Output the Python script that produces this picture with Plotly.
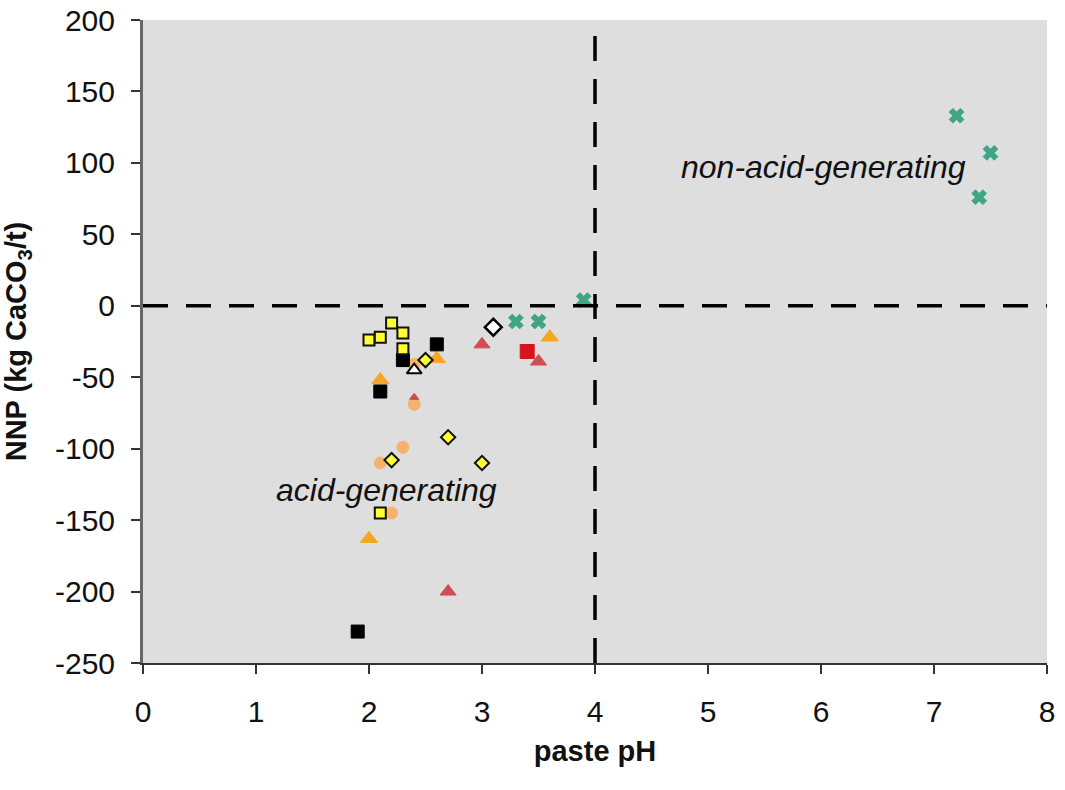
import plotly.graph_objects as go

# series: paste pH (x) and NNP in kg CaCO3/t (y)
yellow_sq_ph = [2.0, 2.1, 2.2, 2.3, 2.3, 2.1]
yellow_sq_nnp = [-24, -22, -12, -19, -30, -145]

black_sq_ph = [2.3, 2.6, 2.1, 1.9]
black_sq_nnp = [-38, -27, -60, -228]

orange_circ_ph = [2.4, 2.4, 2.3, 2.1, 2.2]
orange_circ_nnp = [-41, -69, -99, -110, -145]

orange_tri_ph = [2.1, 2.6, 3.6, 2.0]
orange_tri_nnp = [-52, -37, -22, -163]

red_tri_ph = [3.0, 3.5, 2.4, 2.7]
red_tri_nnp = [-27, -39, -64, -200]

red_sq_ph = [3.4]
red_sq_nnp = [-32]

yellow_dia_ph = [2.5, 2.7, 2.2, 3.0]
yellow_dia_nnp = [-38, -92, -108, -110]

white_dia_ph = [3.1]
white_dia_nnp = [-15]

white_tri_ph = [2.4]
white_tri_nnp = [-45]

green_x_ph = [3.3, 3.5, 3.9, 7.2, 7.5, 7.4]
green_x_nnp = [-11, -11, 4, 133, 107, 76]

y_ticks = [200, 150, 100, 50, 0, -50, -100, -150, -200, -250]
y_tick_text = ["200", "150", "100", "50", "0", "-50", "-100", "-150", "-200", "-250"]

FONT = "Liberation Sans, Arial, sans-serif"
INK = "#111111"

fig = go.Figure()


def add(x, y, symbol, size, color, line_color=None, line_width=1):
    fig.add_trace(go.Scatter(
        x=x, y=y, mode="markers", showlegend=False,
        marker=dict(symbol=symbol, size=size, color=color,
                    line=dict(color=line_color or color, width=line_width)),
    ))


add(orange_circ_ph, orange_circ_nnp, "circle", 12, "#f5b26f")
add(orange_tri_ph, orange_tri_nnp, "triangle-up", 15, "#f5a623")
add(black_sq_ph, black_sq_nnp, "square", 13, "#000000")
add(yellow_sq_ph, yellow_sq_nnp, "square", 11, "#ffff33", INK, 2)
add(red_tri_ph, red_tri_nnp, "triangle-up", [14, 14, 8, 14], "#cc0f1c")
add(red_sq_ph, red_sq_nnp, "square", 14, "#d7141e")
add(yellow_dia_ph, yellow_dia_nnp, "diamond", 11, "#ffff33", INK, 2)
add(white_dia_ph, white_dia_nnp, "diamond", 13, "#ffffff", "#000000", 2.5)
add(white_tri_ph, white_tri_nnp, "triangle-up", 13, "#ffffff", "#000000", 2)
add(green_x_ph, green_x_nnp, "x", 13, "#3ea585")

# quadrant lines
fig.add_shape(type="line", x0=0, x1=8, y0=0, y1=0,
              line=dict(color="black", width=3.5, dash="25px,18px"))
fig.add_shape(type="line", x0=4, x1=4, y0=-250, y1=200,
              line=dict(color="black", width=3.5, dash="25px,18px"))

fig.add_annotation(x=6.02, y=97, text="<i>non-acid-generating</i>", showarrow=False,
                   font=dict(family=FONT, size=32, color=INK))
fig.add_annotation(x=2.155, y=-129, text="<i>acid-generating</i>", showarrow=False,
                   font=dict(family=FONT, size=32, color=INK))

fig.update_xaxes(
    range=[0, 8], tickmode="linear", tick0=0, dtick=1, automargin=False,
    showgrid=False, zeroline=False, showline=True, linecolor="#333333", linewidth=2,
    ticks="outside", ticklen=9, tickcolor="#333333", tickwidth=2,
    ticklabelstandoff=12,
    tickfont=dict(family=FONT, size=30, color=INK),
    title=dict(text="<b>paste pH</b>", font=dict(family=FONT, size=29, color=INK),
               standoff=14),
)
fig.update_yaxes(
    range=[-250, 200], tickmode="array", tickvals=y_ticks, ticktext=y_tick_text,
    automargin=False,
    showgrid=False, zeroline=False, showline=True, linecolor="#666666", linewidth=3,
    ticks="outside", ticklen=9, tickcolor="#333333", tickwidth=2,
    ticklabelstandoff=10, ticklabeloverflow="allow",
    tickfont=dict(family=FONT, size=30, color=INK),
    title=dict(text="<b>NNP (kg CaCO<sub>3</sub>/t)</b>",
               font=dict(family=FONT, size=29, color=INK), standoff=22),
)

fig.update_layout(
    width=1065, height=790,
    margin=dict(l=143, r=18, t=20, b=127),
    plot_bgcolor="#dedede", paper_bgcolor="white",
    showlegend=False,
)

# drop the default page margin so the figure sits at the window's corner
fig.write_html("out.html", config={"displayModeBar": False},
               post_script="document.body.style.margin = '0';")
